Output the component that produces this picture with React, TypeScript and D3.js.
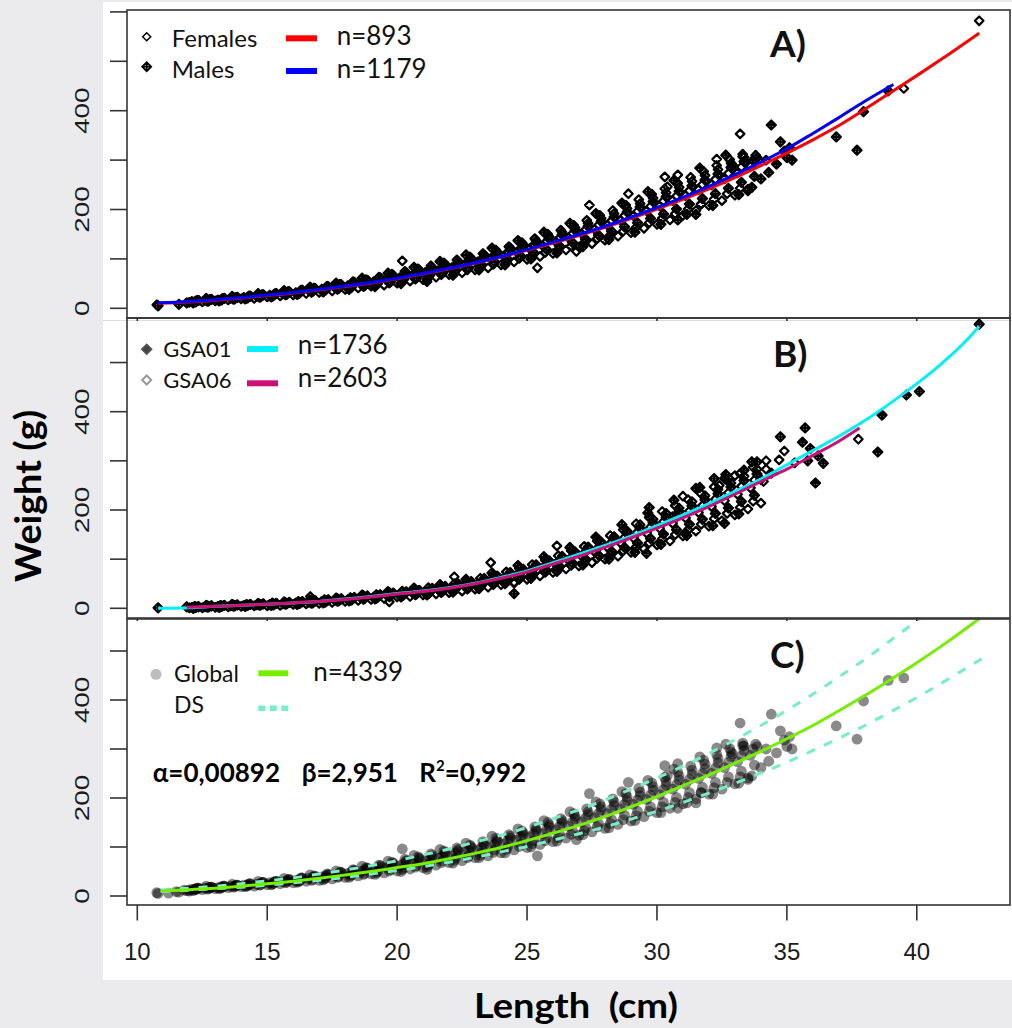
import React from 'react';
import * as d3 from 'd3';

type Pt = [number, number];

// ---- values: [length (cm), weight (g)] ----
const xTicks = [10, 15, 20, 25, 30, 35, 40];
const yTicks = [0, 100, 200, 300, 400, 500, 600];
const yLabels = [0, 200, 400];

const femalesA: Pt[] = [
  [10.75, 7],
  [12.0, 12], [12.1, 14], [12.3, 16], [12.5, 13], [12.6, 16], [12.8, 18],
  [13.0, 15], [13.1, 17], [13.3, 20], [13.5, 17], [13.6, 20], [13.8, 22],
  [14.0, 19], [14.1, 22], [14.3, 25], [14.5, 20], [14.6, 24], [14.8, 28],
  [15.0, 23], [15.1, 27], [15.3, 30], [15.5, 25], [15.6, 29], [15.8, 34],
  [16.0, 27], [16.1, 32], [16.3, 37], [16.5, 30], [16.6, 36], [16.8, 41],
  [17.0, 32], [17.1, 39], [17.3, 45], [17.5, 35], [17.6, 42], [17.8, 49],
  [18.0, 38], [18.1, 46], [18.3, 54], [18.5, 41], [18.6, 50], [18.8, 58],
  [19.0, 45], [19.1, 54], [19.3, 63], [19.5, 47], [19.6, 58], [19.8, 69],
  [20.0, 51], [20.1, 62], [20.3, 75], [20.5, 55], [20.6, 67], [20.8, 80],
  [21.0, 58], [21.1, 73], [21.3, 86], [21.5, 63], [21.6, 77], [21.8, 92],
  [22.0, 68], [22.1, 82], [22.3, 98], [22.5, 72], [22.6, 89], [22.8, 104],
  [23.0, 78], [23.1, 94], [23.3, 111], [23.5, 82], [23.6, 101], [23.8, 118],
  [24.0, 88], [24.1, 106], [24.3, 125], [24.5, 94], [24.6, 114], [24.8, 133],
  [25.0, 99], [25.1, 121], [25.3, 141], [25.5, 105], [25.6, 127], [25.8, 150],
  [26.0, 111], [26.1, 135], [26.3, 158], [26.5, 118], [26.6, 143], [26.8, 168],
  [27.0, 124], [27.1, 151], [27.3, 178], [27.5, 131], [27.6, 160], [27.8, 188],
  [28.0, 138], [28.1, 168], [28.3, 198], [28.5, 146], [28.6, 178], [28.8, 209],
  [29.0, 153], [29.1, 187], [29.3, 220], [29.5, 162], [29.6, 197], [29.8, 231],
  [30.0, 170], [30.1, 207], [30.3, 242], [30.5, 179], [30.6, 218], [30.8, 253],
  [31.0, 188], [31.1, 228], [31.3, 265], [31.5, 198], [31.6, 240], [31.8, 277],
  [32.0, 208], [32.1, 250], [32.3, 289], [32.5, 218], [32.6, 262], [32.8, 301],
  [33.0, 229], [33.1, 274], [33.3, 312], [33.5, 241], [33.6, 287],
  [12.2, 13], [12.25, 15], [12.35, 16], [12.7, 14], [12.75, 17], [12.85, 18],
  [13.2, 16], [13.25, 19], [13.35, 20], [13.7, 18], [13.75, 21], [13.85, 22],
  [14.2, 20], [14.25, 23], [14.35, 25], [14.7, 22], [14.75, 26], [14.85, 28],
  [15.2, 24], [15.25, 28], [15.35, 30], [15.7, 27], [15.75, 31], [15.85, 34],
  [16.2, 29], [16.25, 34], [16.35, 37], [16.7, 32], [16.75, 38], [16.85, 40],
  [17.2, 35], [17.25, 41], [17.35, 44], [17.7, 38], [17.75, 45], [17.85, 48],
  [18.2, 41], [18.25, 49], [18.35, 53], [18.7, 44], [18.75, 53], [18.85, 57],
  [19.2, 47], [19.25, 57], [19.35, 62], [19.7, 51], [19.75, 62], [19.85, 67],
  [20.2, 54], [20.25, 66], [20.35, 72], [20.7, 59], [20.75, 71], [20.85, 78],
  [21.2, 63], [21.25, 76], [21.35, 83], [21.7, 68], [21.75, 82], [21.85, 89],
  [22.2, 73], [22.25, 88], [22.35, 95], [22.7, 78], [22.75, 93], [22.85, 101],
  [23.2, 83], [23.25, 99], [23.35, 108], [23.7, 89], [23.75, 106], [23.85, 114],
  [24.2, 95], [24.25, 113], [24.35, 122], [24.7, 101], [24.75, 120], [24.85, 129],
  [25.2, 107], [25.25, 127], [25.35, 137], [25.7, 113], [25.75, 135], [25.85, 145],
  [26.2, 119], [26.25, 142], [26.35, 154], [26.7, 126], [26.75, 151], [26.85, 163],
  [27.2, 133], [27.25, 159], [27.35, 172], [27.7, 141], [27.75, 168], [27.85, 182],
  [28.2, 148], [28.25, 177], [28.35, 192], [28.7, 156], [28.75, 187], [28.85, 202],
  [29.2, 164], [29.25, 196], [29.35, 212], [29.7, 173], [29.75, 206], [29.85, 223],
  [30.2, 182], [30.25, 217], [30.35, 234], [30.7, 191], [30.75, 227], [30.85, 245],
  [31.2, 201], [31.25, 238], [31.35, 257], [31.7, 211], [31.75, 250], [31.85, 269],
  [32.2, 221], [32.25, 261], [32.35, 281], [32.7, 232], [32.75, 273], [32.85, 294],
  [33.2, 243], [33.25, 286], [33.35, 306],
  [20.2, 96], [27.4, 209], [25.4, 82], [21.15, 54], [26.9, 115], [30.3, 266],
  [30.8, 270], [32.3, 302], [33.2, 353], [33.3, 307], [39.5, 445], [42.4, 582],
  [31.7, 211], [30.4, 246], [33.8, 310], [34.2, 300], [28.9, 232],
];

const malesA: Pt[] = [
  [10.8, 5], [11.6, 8], [11.9, 11],
  [12.25, 13], [12.35, 16], [12.15, 11], [12.75, 15], [12.85, 18], [12.65, 20],
  [13.25, 17], [13.35, 20], [13.15, 15], [13.75, 19], [13.85, 22], [13.65, 24],
  [14.25, 21], [14.35, 24], [14.15, 19], [14.75, 23], [14.85, 27], [14.65, 30],
  [15.25, 26], [15.35, 30], [15.15, 23], [15.75, 28], [15.85, 33], [15.65, 36],
  [16.25, 31], [16.35, 36], [16.15, 28], [16.75, 34], [16.85, 39], [16.65, 43],
  [17.25, 37], [17.35, 43], [17.15, 33], [17.75, 40], [17.85, 47], [17.65, 51],
  [18.25, 43], [18.35, 51], [18.15, 38], [18.75, 46], [18.85, 56], [18.65, 61],
  [19.25, 50], [19.35, 60], [19.15, 44], [19.75, 54], [19.85, 65], [19.65, 71],
  [20.25, 58], [20.35, 70], [20.15, 50], [20.75, 62], [20.85, 75], [20.65, 83],
  [21.25, 67], [21.35, 80], [21.15, 59], [21.75, 72], [21.85, 86], [21.65, 95],
  [22.25, 77], [22.35, 92], [22.15, 67], [22.75, 82], [22.85, 98], [22.65, 108],
  [23.25, 88], [23.35, 104], [23.15, 78], [23.75, 94], [23.85, 111], [23.65, 122],
  [24.25, 100], [24.35, 118], [24.15, 88], [24.75, 106], [24.85, 125], [24.65, 137],
  [25.25, 113], [25.35, 133], [25.15, 100], [25.75, 119], [25.85, 141], [25.65, 154],
  [26.25, 126], [26.35, 149], [26.15, 112], [26.75, 133], [26.85, 158], [26.65, 172],
  [27.25, 140], [27.35, 166], [27.15, 125], [27.75, 148], [27.85, 176], [27.65, 192],
  [28.25, 156], [28.35, 185], [28.15, 139], [28.75, 165], [28.85, 195], [28.65, 213],
  [29.25, 173], [29.35, 205], [29.15, 154], [29.75, 182], [29.85, 216], [29.65, 236],
  [30.25, 191], [30.35, 226], [30.15, 170], [30.75, 201], [30.85, 237], [30.65, 259],
  [31.25, 211], [31.35, 248], [31.15, 190], [31.75, 222], [31.85, 260], [31.65, 284],
  [32.25, 232], [32.35, 272], [32.15, 208], [32.75, 243], [32.85, 285], [32.65, 310],
  [33.25, 255], [33.35, 297], [33.15, 230], [33.75, 267], [33.85, 305], [33.65, 245],
  [34.4, 371], [36.9, 347], [37.7, 320], [37.95, 398], [34.75, 337], [34.9, 318],
  [35.0, 305], [35.1, 325], [35.2, 300], [34.6, 292], [30.8, 179], [31.5, 190],
  [33.5, 238], [34.0, 262], [34.3, 275], [32.9, 290], [33.7, 300], [38.9, 440],
];

// fish that only enter the global fit
const unsexed: Pt[] = [[11.2, 6], [11.5, 9], [12.0, 10], [11.8, 12]];

const gsa01: Pt[] = [
  [10.8, 1], [11.9, 3],
  [12.25, 2], [12.35, 3], [12.15, 0], [12.75, 3], [12.85, 5], [12.65, 6],
  [13.25, 4], [13.35, 6], [13.15, 2], [13.75, 5], [13.85, 7], [13.65, 8],
  [14.25, 6], [14.35, 8], [14.15, 4], [14.75, 7], [14.85, 9], [14.65, 10],
  [15.25, 7], [15.35, 10], [15.15, 6], [15.75, 9], [15.85, 12], [15.65, 13],
  [16.25, 10], [16.35, 13], [16.15, 8], [16.75, 11], [16.85, 15], [16.65, 17],
  [17.25, 13], [17.35, 17], [17.15, 11], [17.75, 15], [17.85, 19], [17.65, 21],
  [18.25, 17], [18.35, 22], [18.15, 15], [18.75, 20], [18.85, 25], [18.65, 27],
  [19.25, 22], [19.35, 27], [19.15, 19], [19.75, 25], [19.85, 31], [19.65, 34],
  [20.25, 27], [20.35, 33], [20.15, 23], [20.75, 29], [20.85, 36], [20.65, 41],
  [21.25, 32], [21.35, 39], [21.15, 27], [21.75, 35], [21.85, 43], [21.65, 48],
  [22.25, 39], [22.35, 47], [22.15, 33], [22.75, 42], [22.85, 53], [22.65, 59],
  [23.25, 47], [23.35, 58], [23.15, 40], [23.75, 52], [23.85, 64], [23.65, 72],
  [24.25, 57], [24.35, 71], [24.15, 50], [24.75, 63], [24.85, 78], [24.65, 87],
  [25.25, 70], [25.35, 86], [25.15, 61], [25.75, 77], [25.85, 95], [25.65, 105],
  [26.25, 85], [26.35, 103], [26.15, 75], [26.75, 92], [26.85, 112], [26.65, 124],
  [27.25, 100], [27.35, 121], [27.15, 88], [27.75, 108], [27.85, 131], [27.65, 145],
  [28.25, 116], [28.35, 141], [28.15, 100], [28.75, 124], [28.85, 152], [28.65, 170],
  [29.25, 133], [29.35, 163], [29.15, 114], [29.75, 142], [29.85, 174], [29.65, 194],
  [30.25, 151], [30.35, 185], [30.15, 130], [30.75, 160], [30.85, 197], [30.65, 220],
  [31.25, 171], [31.35, 208], [31.15, 148], [31.75, 181], [31.85, 221], [31.65, 246],
  [32.25, 193], [32.35, 233], [32.15, 168], [32.75, 204], [32.85, 247], [32.65, 272],
  [33.25, 217], [33.35, 260], [33.15, 192], [33.75, 230], [33.85, 273], [33.65, 298],
  [24.5, 30], [34.75, 349], [35.7, 367], [36.1, 255], [38.5, 318], [38.66, 393],
  [39.6, 434], [40.1, 441], [42.4, 578], [29.7, 205], [32.2, 264], [32.6, 264],
  [33.35, 281], [33.85, 298], [32.6, 173], [31.1, 153], [29.6, 112], [30.6, 186],
  [31.5, 244], [35.6, 338], [35.9, 325], [36.2, 310], [36.4, 295], [35.8, 300],
  [34.4, 275], [34.0, 262],
];

const gsa06: Pt[] = [
  [12.0, 1], [12.1, 2], [12.2, 4], [12.5, 1], [12.6, 3], [12.7, 5],
  [13.0, 2], [13.1, 4], [13.2, 6], [13.5, 3], [13.6, 5], [13.7, 7],
  [14.0, 4], [14.1, 6], [14.2, 8], [14.5, 5], [14.6, 7], [14.7, 9],
  [15.0, 5], [15.1, 8], [15.2, 11], [15.5, 6], [15.6, 9], [15.7, 12],
  [16.0, 8], [16.1, 11], [16.2, 14], [16.5, 9], [16.6, 12], [16.7, 15],
  [17.0, 10], [17.1, 14], [17.2, 18], [17.5, 12], [17.6, 16], [17.7, 20],
  [18.0, 14], [18.1, 18], [18.2, 22], [18.5, 16], [18.6, 21], [18.7, 26],
  [19.0, 18], [19.1, 23], [19.2, 28], [19.5, 20], [19.6, 26], [19.7, 32],
  [20.0, 23], [20.1, 29], [20.2, 35], [20.5, 24], [20.6, 31], [20.7, 38],
  [21.0, 27], [21.1, 34], [21.2, 42], [21.5, 29], [21.6, 37], [21.7, 45],
  [22.0, 32], [22.1, 41], [22.2, 50], [22.5, 35], [22.6, 45], [22.7, 55],
  [23.0, 39], [23.1, 50], [23.2, 61], [23.5, 43], [23.6, 55], [23.7, 67],
  [24.0, 48], [24.1, 61], [24.2, 74], [24.5, 53], [24.6, 67], [24.7, 81],
  [25.0, 59], [25.1, 74], [25.2, 89], [25.5, 66], [25.6, 82], [25.7, 98],
  [26.0, 73], [26.1, 90], [26.2, 107], [26.5, 80], [26.6, 98], [26.7, 117],
  [27.0, 86], [27.1, 106], [27.2, 126], [27.5, 93], [27.6, 115], [27.7, 137],
  [28.0, 100], [28.1, 124], [28.2, 148], [28.5, 106], [28.6, 133], [28.7, 160],
  [29.0, 114], [29.1, 143], [29.2, 172], [29.5, 121], [29.6, 153], [29.7, 185],
  [30.0, 129], [30.1, 163], [30.2, 197], [30.5, 137], [30.6, 173], [30.7, 209],
  [31.0, 147], [31.1, 184], [31.2, 221], [31.5, 157], [31.6, 195], [31.7, 233],
  [32.0, 167], [32.1, 207], [32.2, 247], [32.5, 178], [32.6, 219], [32.7, 260],
  [33.0, 190], [33.1, 232], [33.2, 274], [33.5, 202], [33.6, 245], [33.7, 287],
  [34.0, 214], [34.1, 258], [34.2, 300],
  [12.2, 1], [12.25, 3], [12.35, 4], [12.7, 2], [12.75, 4], [12.85, 5],
  [13.2, 3], [13.25, 5], [13.35, 6], [13.7, 4], [13.75, 6], [13.85, 7],
  [14.2, 5], [14.25, 7], [14.35, 8], [14.7, 6], [14.75, 8], [14.85, 9],
  [15.2, 7], [15.25, 9], [15.35, 10], [15.7, 8], [15.75, 10], [15.85, 12],
  [16.2, 9], [16.25, 12], [16.35, 14], [16.7, 10], [16.75, 14], [16.85, 15],
  [17.2, 12], [17.25, 16], [17.35, 17], [17.7, 14], [17.75, 18], [17.85, 20],
  [18.2, 16], [18.25, 20], [18.35, 22], [18.7, 18], [18.75, 23], [18.85, 25],
  [19.2, 20], [19.25, 25], [19.35, 28], [19.7, 23], [19.75, 28], [19.85, 31],
  [20.2, 25], [20.25, 31], [20.35, 34], [20.7, 27], [20.75, 34], [20.85, 37],
  [21.2, 29], [21.25, 37], [21.35, 41], [21.7, 32], [21.75, 41], [21.85, 45],
  [22.2, 36], [22.25, 45], [22.35, 50], [22.7, 39], [22.75, 50], [22.85, 55],
  [23.2, 43], [23.25, 55], [23.35, 61], [23.7, 48], [23.75, 60], [23.85, 66],
  [24.2, 53], [24.25, 67], [24.35, 73], [24.7, 59], [24.75, 73], [24.85, 80],
  [25.2, 66], [25.25, 81], [25.35, 89], [25.7, 73], [25.75, 89], [25.85, 97],
  [26.2, 80], [26.25, 98], [26.35, 106], [26.7, 87], [26.75, 106], [26.85, 115],
  [27.2, 94], [27.25, 115], [27.35, 125], [27.7, 102], [27.75, 124], [27.85, 135],
  [28.2, 109], [28.25, 134], [28.35, 146], [28.7, 117], [28.75, 144], [28.85, 157],
  [29.2, 125], [29.25, 155], [29.35, 170], [29.7, 133], [29.75, 165], [29.85, 181],
  [30.2, 141], [30.25, 176], [30.35, 193], [30.7, 150], [30.75, 186], [30.85, 204],
  [31.2, 160], [31.25, 198], [31.35, 217], [31.7, 171], [31.75, 209], [31.85, 229],
  [32.2, 182], [32.25, 222], [32.35, 242], [32.7, 193], [32.75, 235], [32.85, 255],
  [33.2, 205], [33.25, 248], [33.35, 269], [33.7, 218], [33.75, 261], [33.85, 283],
  [16.66, 24], [19.7, 13], [22.2, 64], [23.6, 93], [24.5, 51], [26.15, 127],
  [34.7, 302], [34.2, 283], [37.75, 344], [33.0, 270], [32.4, 250], [31.0, 228],
  [34.9, 320], [35.3, 296],
];

// fitted curves
const fitFemales: Pt[] = [
  [10.8, 10], [12, 13], [14, 21], [16, 31], [18, 44], [20, 60], [22, 80], [24, 104],
  [26, 132], [28, 164], [30, 201], [32, 242], [34, 289], [36, 341], [37, 370],
  [38, 403], [39, 437], [40, 471], [41, 506], [42.4, 557],
];
const fitMales: Pt[] = [
  [10.8, 11], [12, 14], [14, 22], [16, 32], [18, 45], [20, 61], [22, 81], [24, 105],
  [26, 134], [28, 166], [30, 204], [32, 247], [34, 296], [35, 323], [36, 354],
  [37, 386], [38, 419], [39.1, 453],
];
const fitGSA01: Pt[] = [
  [10.8, 0], [12, 1], [13, 4], [14.5, 7], [16, 11], [17, 14], [18, 19], [19, 24],
  [20, 30], [21, 35], [22, 42], [23, 51], [24, 63], [25, 76], [26, 93], [27, 110],
  [28, 128], [29, 147], [30, 168], [31, 190], [32, 213], [33, 238], [34, 263],
  [35, 292], [36, 321], [37, 350], [38, 382], [39, 418], [40, 457], [41, 500],
  [42, 550], [42.4, 574],
];
const fitGSA06: Pt[] = [
  [11.9, 2], [13, 4], [14.5, 7], [16, 11], [17, 14], [18, 18], [19, 23], [20, 29],
  [21, 34], [22, 41], [23, 50], [24, 61], [25, 74], [26, 90], [27, 106], [28, 124],
  [29, 143], [30, 163], [31, 184], [32, 207], [33, 232], [34, 258], [35, 283],
  [36, 311], [37, 340], [37.8, 367],
];
const fitGlobal: Pt[] = [
  [10.9, 10], [12, 13], [13, 16], [14, 20], [15, 25], [16, 30], [17, 36], [18, 43],
  [19, 50], [20, 58], [21, 66], [22, 76], [23, 87], [24, 99], [25, 113], [26, 128],
  [27, 144], [28, 162], [29, 182], [30, 203], [31, 225], [32, 247], [33, 271],
  [34, 295], [35, 321], [36, 348], [37, 378], [38, 409], [39, 442], [40, 476],
  [41, 512], [42, 550], [43, 590],
];
const dsUpper: Pt[] = [
  [10.9, 12], [12, 16], [13, 20], [14, 25], [15, 31], [16, 37], [17, 45], [18, 53],
  [19, 62], [20, 72], [21, 84], [22, 96], [23, 110], [24, 124], [25, 140], [26, 158],
  [27, 176], [28, 196], [29, 218], [30, 241], [31, 265], [32, 291], [33, 319],
  [34, 348], [35, 379], [36, 412], [37, 447], [38, 483], [39, 522], [40, 562], [41, 605],
];
const dsLower: Pt[] = [
  [10.9, 9], [12, 12], [13, 15], [14, 18], [15, 22], [16, 27], [17, 32], [18, 38],
  [19, 45], [20, 52], [21, 60], [22, 69], [23, 79], [24, 90], [25, 101], [26, 114],
  [27, 127], [28, 141], [29, 157], [30, 173], [31, 191], [32, 210], [33, 230],
  [34, 251], [35, 273], [36, 297], [37, 322], [38, 348], [39, 376], [40, 405],
  [41, 436], [42, 468], [42.5, 484],
];

const globalPts: Pt[] = [...femalesA, ...malesA, ...unsexed];

// ---- layout ----
const W = 1012;
const H = 1028;
const LEFT = 127;
const RIGHT = 1010;
const SANS = 'Lato, "Open Sans", sans-serif';
const ARIAL = '"Liberation Sans", Arial, sans-serif';

const x = d3.scaleLinear().domain([10, 40]).range([137.3, 916.8]);

const panelA = { id: 'A', top: 10, bottom: 318, y: d3.scaleLinear().domain([0, 400]).range([308.3, 110.7]) };
const panelB = { id: 'B', top: 318, bottom: 618, y: d3.scaleLinear().domain([0, 400]).range([608.3, 411.7]) };
const panelC = { id: 'C', top: 619, bottom: 905, y: d3.scaleLinear().domain([0, 400]).range([896, 700]) };
const panels = [panelA, panelB, panelC];

const diamond = (h: number) => `M0,${-h}L${h},0L0,${h}L${-h},0Z`;
const diamondPlus = (h: number) => `${diamond(h)}M${-h},0H${h}M0,${-h}V${h}`;

const lineFor = (y: d3.ScaleLinear<number, number>) =>
  d3.line<Pt>().x(d => x(d[0])).y(d => y(d[1])).curve(d3.curveMonotoneX);

const Symbols = ({ data, y, d, sw }: { data: Pt[]; y: d3.ScaleLinear<number, number>; d: string; sw: number }) => (
  <g fill="none" stroke="#000" strokeWidth={sw} strokeLinejoin="round">
    {data.map((p, i) => (
      <path key={i} d={d} transform={`translate(${x(p[0]).toFixed(1)},${y(p[1]).toFixed(1)})`} />
    ))}
  </g>
);

const Curve = ({ data, y, color, width = 3, dash }: { data: Pt[]; y: d3.ScaleLinear<number, number>; color: string; width?: number; dash?: string }) => (
  <path d={lineFor(y)(data) || ''} fill="none" stroke={color} strokeWidth={width} strokeDasharray={dash} />
);

const Frame = ({ p, smallTicks }: { p: typeof panelA; smallTicks: boolean }) => (
  <g stroke="#333" strokeWidth={1.6}>
    <rect x={LEFT} y={p.top} width={RIGHT - LEFT} height={p.bottom - p.top} fill="none" />
    {yTicks.filter(t => p.y(t) > p.top && p.y(t) < p.bottom).map(t => (
      <line key={t} x1={LEFT - 17} x2={LEFT} y1={p.y(t)} y2={p.y(t)} />
    ))}
    {xTicks.map(t => (
      <line key={t} x1={x(t)} x2={x(t)} y1={p.bottom} y2={p.bottom + (smallTicks ? 3 : 15.5)} />
    ))}
  </g>
);

const YLabels = ({ p }: { p: typeof panelA }) => (
  <g fontFamily={ARIAL} fontSize={20} fill="#1a1a1a" textAnchor="middle">
    {yLabels.map(v => (
      <text key={v} transform={`translate(88.5,${p.y(v)}) rotate(-90) scale(1.4,1)`}>{v}</text>
    ))}
  </g>
);

export default function App() {
  return (
    <div style={{ position: 'absolute', left: 0, top: 0 }}>
      <svg width={W} height={H} viewBox={`0 0 ${W} ${H}`} style={{ display: 'block' }}>
        <defs>
          {panels.map(p => (
            <clipPath key={p.id} id={`clip${p.id}`}>
              <rect x={LEFT} y={p.top} width={RIGHT - LEFT} height={p.bottom - p.top} />
            </clipPath>
          ))}
        </defs>
        <rect width={W} height={H} fill="#ebebed" />
        <rect x={103} y={2} width={W - 103} height={978} fill="#fff" />
        <line x1={103} x2={W} y1={320.5} y2={320.5} stroke="#dcdcdc" />

        {/* A) females / males */}
        <g clipPath="url(#clipA)">
          <Symbols data={femalesA} y={panelA.y} d={diamond(4.3)} sw={2.2} />
          <Symbols data={malesA} y={panelA.y} d={diamondPlus(4.6)} sw={2.1} />
          <Curve data={fitFemales} y={panelA.y} color="#ff0000" />
          <Curve data={fitMales} y={panelA.y} color="#0000ff" />
        </g>

        {/* B) GSA01 / GSA06 */}
        <g clipPath="url(#clipB)">
          <Symbols data={gsa06} y={panelB.y} d={diamond(4.3)} sw={2.2} />
          <Symbols data={gsa01} y={panelB.y} d={diamondPlus(4.6)} sw={2.1} />
          <Curve data={fitGSA01} y={panelB.y} color="#00f0ff" />
          <Curve data={fitGSA06} y={panelB.y} color="#cd1076" />
        </g>

        {/* C) global fit with its band */}
        <g clipPath="url(#clipC)">
          <g fill="#000" fillOpacity={0.46}>
            {globalPts.map((p, i) => (
              <circle key={i} cx={x(p[0])} cy={panelC.y(p[1])} r={5.4} />
            ))}
          </g>
          <Curve data={dsUpper} y={panelC.y} color="#76eec6" dash="9 10" />
          <Curve data={dsLower} y={panelC.y} color="#76eec6" dash="9 10" />
          <Curve data={fitGlobal} y={panelC.y} color="#76ee00" />
        </g>

        <Frame p={panelA} smallTicks />
        <Frame p={panelB} smallTicks />
        <Frame p={panelC} smallTicks={false} />
        {panels.map(p => <YLabels key={p.id} p={p} />)}

        <g fontFamily={ARIAL} fontSize={24} fill="#1a1a1a" textAnchor="middle">
          {xTicks.map(t => (
            <text key={t} x={x(t)} y={960}>{t}</text>
          ))}
        </g>

        <text transform="translate(41,496) rotate(-90)" textAnchor="middle" fontFamily={SANS}
          fontWeight="bold" fontSize={36} textLength={172} lengthAdjust="spacingAndGlyphs">Weight (g)</text>
        <text x={576} y={1018} textAnchor="middle" fontFamily={SANS} fontWeight="bold" fontSize={35}
          textLength={204} lengthAdjust="spacingAndGlyphs" style={{ whiteSpace: 'pre' }}>Length  (cm)</text>

        {/* legends */}
        <g fontFamily={SANS} fill="#111">
          <path d={diamond(4)} transform="translate(146.7,36.7)" fill="none" stroke="#000" strokeWidth={1.5} />
          <text x={171.7} y={46.7} fontSize={24}>Females</text>
          <line x1={286} x2={317} y1={38.3} y2={38.3} stroke="#ff0000" strokeWidth={6} />
          <text x={336.7} y={44.5} fontSize={26}>n=893</text>
          <path d={diamondPlus(4.5)} transform="translate(146.7,66.7)" fill="none" stroke="#000" strokeWidth={1.8} />
          <text x={171.7} y={78.3} fontSize={24}>Males</text>
          <line x1={286} x2={317} y1={71} y2={71} stroke="#0000ff" strokeWidth={6} />
          <text x={336.7} y={77.7} fontSize={26}>n=1179</text>
          <text x={770} y={57} fontSize={37} fontWeight="bold">A)</text>

          <path d={diamond(5)} transform="translate(146.7,349.3)" fill="#444" stroke="#555" strokeWidth={1.5} />
          <text x={163.3} y={356.7} fontSize={22}>GSA01</text>
          <line x1={247} x2={278} y1={349} y2={349} stroke="#00f0ff" strokeWidth={6} />
          <text x={297.7} y={354.3} fontSize={26}>n=1736</text>
          <path d={diamond(4.5)} transform="translate(146.7,380)" fill="none" stroke="#999" strokeWidth={2} />
          <text x={163.3} y={388.3} fontSize={22}>GSA06</text>
          <line x1={247} x2={278} y1={383.3} y2={383.3} stroke="#cd1076" strokeWidth={6} />
          <text x={297.7} y={387.3} fontSize={26}>n=2603</text>
          <text x={773} y={367} fontSize={37} fontWeight="bold">B)</text>

          <circle cx={156} cy={674.3} r={5.5} fill="#bdbdbd" />
          <text x={174} y={681.7} fontSize={23}>Global</text>
          <line x1={258.3} x2={288.3} y1={673.3} y2={673.3} stroke="#76ee00" strokeWidth={6} />
          <text x={313.3} y={680.7} fontSize={26}>n=4339</text>
          <text x={174} y={713.3} fontSize={23}>DS</text>
          <line x1={258.3} x2={288.3} y1={708.3} y2={708.3} stroke="#76eec6" strokeWidth={5.5} strokeDasharray="7 4.5" />
          <g fontSize={26} fontWeight="bold" fill="#000">
            <text x={152.7} y={781.7}>α=0,00892</text>
            <text x={301.7} y={781.7}>β=2,951</text>
            <text x={419.3} y={781.7}>R<tspan fontSize={15} dy={-11}>2</tspan><tspan dy={11}>=0,992</tspan></text>
          </g>
          <text x={770} y={668} fontSize={37} fontWeight="bold">C)</text>
        </g>
      </svg>
    </div>
  );
}
